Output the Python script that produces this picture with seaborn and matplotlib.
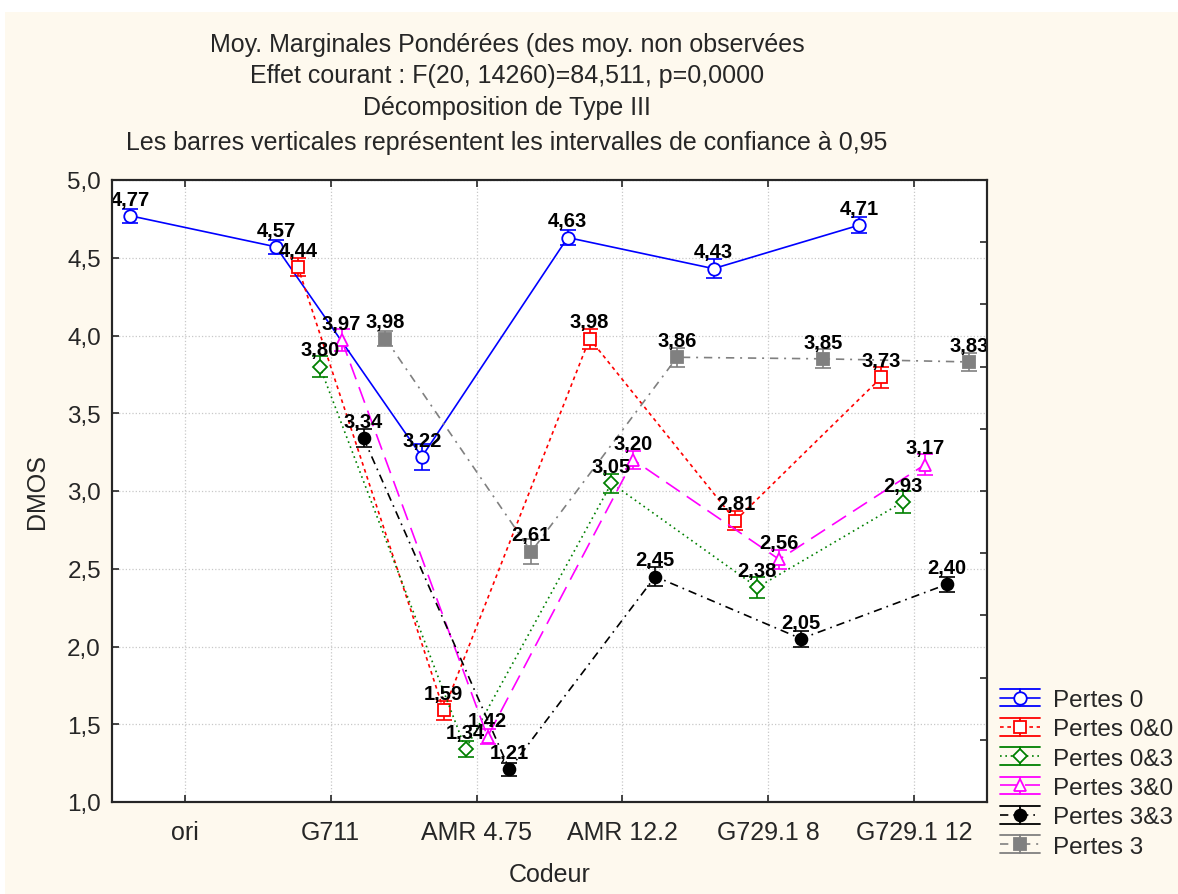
import numpy as np
import pandas as pd
import matplotlib
matplotlib.use("Agg")
import matplotlib.pyplot as plt
import seaborn as sns
from matplotlib.lines import Line2D
from matplotlib.patches import Rectangle
from matplotlib.legend_handler import HandlerBase

# data
codeurs = ["ori", "G711", "AMR 4.75", "AMR 12.2", "G729.1 8", "G729.1 12"]
series = ["Pertes 0", "Pertes 0&0", "Pertes 0&3", "Pertes 3&0", "Pertes 3&3", "Pertes 3"]

nan = np.nan
pertes_0 = [4.77, 4.57, 3.22, 4.63, 4.43, 4.71]
pertes_00 = [nan, 4.44, 1.59, 3.98, 2.81, 3.73]
pertes_03 = [nan, 3.80, 1.34, 3.05, 2.38, 2.93]
pertes_30 = [nan, 3.97, 1.42, 3.20, 2.56, 3.17]
pertes_33 = [nan, 3.34, 1.21, 2.45, 2.05, 2.40]
pertes_3 = [nan, 3.98, 2.61, 3.86, 3.85, 3.83]

# half width of the 0.95 confidence intervals
ci_0 = [0.045, 0.045, 0.085, 0.05, 0.06, 0.05]
ci_00 = [nan, 0.06, 0.06, 0.065, 0.06, 0.07]
ci_03 = [nan, 0.07, 0.05, 0.06, 0.07, 0.07]
ci_30 = [nan, 0.07, 0.05, 0.06, 0.06, 0.07]
ci_33 = [nan, 0.06, 0.04, 0.06, 0.05, 0.05]
ci_3 = [nan, 0.05, 0.08, 0.06, 0.06, 0.06]

values = [pertes_0, pertes_00, pertes_03, pertes_30, pertes_33, pertes_3]
cis = [ci_0, ci_00, ci_03, ci_30, ci_33, ci_3]

# styles
colors = ["#0000ff", "#ff0000", "#008000", "#ff00ff", "#000000", "#808080"]
linestyles = ["-", (0, (2.2, 2.2)), (0, (1, 2.2)), (0, (10, 5)), (0, (5, 3, 1, 3)), (0, (5, 3.5, 1.2, 3.5))]
markers = ["o", "s", "D", "^", "o", "s"]
faces = ["white", "white", "white", "white", "#000000", "#808080"]
msizes = [9, 8.5, 7, 9, 8.5, 8.5]

rows = []
for name, vals, ci in zip(series, values, cis):
    for i, cod in enumerate(codeurs):
        rows.append({"Codeur": cod, "idx": i, "serie": name, "DMOS": vals[i], "ci": ci[i]})
df = pd.DataFrame(rows)

offsets = np.linspace(-0.375, 0.375, len(series))
df["xpos"] = df["idx"] + df["serie"].map(dict(zip(series, offsets)))

sns.set_style("ticks")
plt.rcParams["font.family"] = ["Liberation Sans", "DejaVu Sans"]

fig = plt.figure(figsize=(11.78, 8.95), dpi=100)
fig.patch.set_facecolor("white")
fig.patches.append(Rectangle((5 / 1178, 0), 1, 1 - 13 / 895, transform=fig.transFigure,
                             facecolor="#fef9ee", edgecolor="none", zorder=-10))

ax = fig.add_axes([112 / 1178, 1 - 803 / 895, 875 / 1178, 622 / 895])
ax.set_facecolor("white")

handles = []
for k, name in enumerate(series):
    d = df[(df["serie"] == name) & df["DMOS"].notna()]
    ax.errorbar(d["xpos"], d["DMOS"], yerr=d["ci"], fmt="none", ecolor=colors[k],
                elinewidth=1.2, capsize=5.75, capthick=1.2, zorder=3)
    sns.lineplot(data=d, x="xpos", y="DMOS", ax=ax, color=colors[k], linestyle=linestyles[k],
                 linewidth=1.2, marker=markers[k], markersize=msizes[k], markerfacecolor=faces[k],
                 markeredgecolor=colors[k], markeredgewidth=1.3, errorbar=None, zorder=4)
    for xp, v in zip(d["xpos"], d["DMOS"]):
        ax.annotate(f"{v:.2f}".replace(".", ","), (xp, v), xytext=(0, 12),
                    textcoords="offset points", ha="center", va="center",
                    fontsize=14.5, fontweight="bold", color="black", zorder=6)
    handles.append(Line2D([], [], color=colors[k], linestyle=linestyles[k], linewidth=1.2,
                          marker=markers[k], markersize=msizes[k], markerfacecolor=faces[k],
                          markeredgecolor=colors[k], markeredgewidth=1.3, label=name))

ax.set_xlim(-0.5, len(codeurs) - 0.5)
ax.set_ylim(1.0, 5.0)
ax.set_xticks(range(len(codeurs)))
ax.set_xticklabels(codeurs, fontsize=18)
yt = np.arange(1.0, 5.01, 0.5)
ax.set_yticks(yt)
ax.set_yticklabels([f"{t:.1f}".replace(".", ",") for t in yt], fontsize=17.5)
ax.grid(True, color="#c8c8c8", linestyle=":", linewidth=0.9)
ax.set_axisbelow(True)
ax.tick_params(direction="in", length=5, width=1.2, top=True, right=False)
ax.tick_params(axis="x", pad=13)
ax.tick_params(axis="y", pad=8)
for s in ax.spines.values():
    s.set_visible(True)
    s.set_linewidth(1.5)
    s.set_color("black")
ax.set_xlabel("Codeur", fontsize=18, labelpad=13)
ax.set_ylabel("DMOS", fontsize=18, labelpad=13)

ax2 = ax.twinx()
ax2.set_ylim(1.0, 5.0)
ax2.set_yticks(np.arange(1.0, 5.01, 0.4))
ax2.tick_params(direction="in", length=5, width=1.2, labelright=False)
for s in ax2.spines.values():
    s.set_linewidth(1.5)


class ErrHandler(HandlerBase):
    def create_artists(self, legend, orig_handle, xdescent, ydescent, width, height, fontsize, trans):
        c = orig_handle.get_color()
        x0, x1 = -xdescent, -xdescent + width
        xm = (x0 + x1) / 2
        ym = -ydescent + height / 2
        dy = height * 0.52
        top = Line2D([x0, x1], [ym + dy, ym + dy], color=c, lw=1.3)
        bot = Line2D([x0, x1], [ym - dy, ym - dy], color=c, lw=1.3)
        vert = Line2D([xm, xm], [ym - dy, ym + dy], color=c, lw=1.3)
        mid = Line2D([x0, x1], [ym, ym])
        mid.update_from(orig_handle)
        mid.set_marker("None")
        mk = Line2D([xm], [ym])
        mk.update_from(orig_handle)
        mk.set_linestyle("None")
        arts = [top, bot, vert, mid, mk]
        for a in arts:
            a.set_transform(trans)
        return arts


fig.legend(handles=handles, handler_map={Line2D: ErrHandler()}, loc="upper left",
           bbox_to_anchor=(1000 / 1178, 1 - 690 / 895), frameon=False, fontsize=17.5,
           handlelength=1.65, handletextpad=0.55, labelspacing=0.3, borderaxespad=0,
           borderpad=0)

titles = ["Moy. Marginales Pondérées (des moy. non observées",
          "Effet courant : F(20, 14260)=84,511, p=0,0000",
          "Décomposition de Type III",
          "Les barres verticales représentent les intervalles de confiance à 0,95"]
for t, yp in zip(titles, [45, 76, 108, 143]):
    fig.text(507 / 1178, 1 - yp / 895, t, ha="center", va="center", fontsize=18)

fig.savefig("out.png", dpi=100)
